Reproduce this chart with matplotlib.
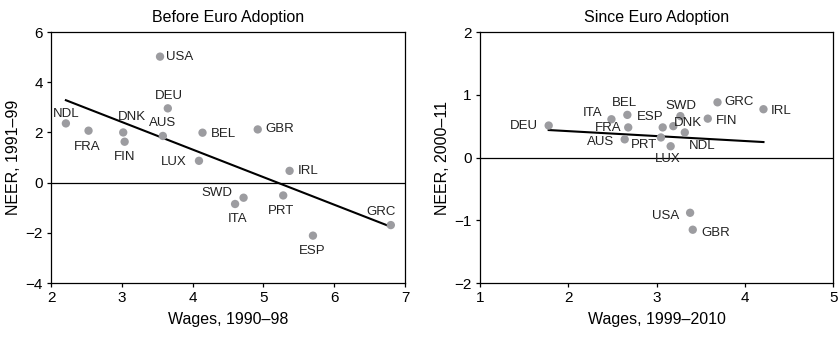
import matplotlib
matplotlib.use("Agg")
import matplotlib.pyplot as plt
import numpy as np

plt.rcParams["font.family"] = ["Liberation Sans", "DejaVu Sans"]
plt.rcParams["font.size"] = 11

# Before euro adoption: wage growth 1990-98 vs NEER change 1991-99
before_countries = ["NDL", "FRA", "DNK", "FIN", "AUS", "USA", "DEU", "BEL",
                    "GBR", "LUX", "IRL", "SWD", "ITA", "PRT", "ESP", "GRC"]
before_wages = [2.21, 2.53, 3.02, 3.04, 3.58, 3.54, 3.65, 4.14,
                4.92, 4.09, 5.37, 4.72, 4.60, 5.28, 5.70, 6.80]
before_neer = [2.36, 2.07, 2.00, 1.63, 1.86, 5.02, 2.96, 1.99,
               2.12, 0.87, 0.47, -0.60, -0.85, -0.51, -2.11, -1.69]

# Since euro adoption: wage growth 1999-2010 vs NEER change 2000-11
since_countries = ["DEU", "ITA", "BEL", "FRA", "AUS", "ESP", "PRT", "SWD",
                   "DNK", "NDL", "LUX", "FIN", "GRC", "IRL", "USA", "GBR"]
since_wages = [1.78, 2.49, 2.67, 2.68, 2.64, 3.07, 3.05, 3.27,
               3.19, 3.32, 3.16, 3.58, 3.69, 4.21, 3.38, 3.41]
since_neer = [0.51, 0.61, 0.68, 0.48, 0.29, 0.48, 0.32, 0.66,
              0.50, 0.40, 0.18, 0.62, 0.88, 0.77, -0.88, -1.15]

# label placement (pixel offsets from the marker, horizontal alignment)
before_offsets = {
    "NDL": (0, 9, "center"), "FRA": (-1, -16, "center"), "DNK": (9, 15, "center"),
    "FIN": (0, -15, "center"), "AUS": (0, 13, "center"), "USA": (6, 0, "left"),
    "DEU": (1, 12, "center"), "BEL": (8, -1, "left"), "GBR": (8, 0, "left"),
    "LUX": (-12, -1, "right"), "IRL": (8, 0, "left"), "SWD": (-11, 5, "right"),
    "ITA": (2, -15, "center"), "PRT": (-2, -16, "center"), "ESP": (-1, -15, "center"),
    "GRC": (-10, 13, "center"),
}
since_offsets = {
    "DEU": (-11, 0, "right"), "ITA": (-19, 6, "center"), "BEL": (-3, 12, "center"),
    "FRA": (-7, -1, "right"), "AUS": (-10, -3, "right"), "ESP": (-13, 10, "center"),
    "PRT": (-17, -8, "center"), "SWD": (1, 10, "center"), "DNK": (15, 3, "center"),
    "NDL": (17, -14, "center"), "LUX": (-3, -13, "center"), "FIN": (8, -2, "left"),
    "GRC": (7, 0, "left"), "IRL": (7, -2, "left"), "USA": (-11, -3, "right"),
    "GBR": (9, -3, "left"),
}

POINT_COLOR = "#9c9ca0"


def draw_panel(ax, x, y, labels, offsets, title, xlabel, ylabel, xlim, ylim, yticks):
    x = np.asarray(x)
    y = np.asarray(y)
    ax.axhline(0, color="black", linewidth=0.9, zorder=1)

    slope, intercept = np.polyfit(x, y, 1)
    xs = np.array([x.min(), x.max()])
    ax.plot(xs, slope * xs + intercept, color="black", linewidth=1.5, zorder=2)

    ax.scatter(x, y, s=36, color=POINT_COLOR, edgecolors="none", zorder=3)
    for xi, yi, lab in zip(x, y, labels):
        dx, dy, ha = offsets[lab]
        ax.annotate(lab, (xi, yi), xytext=(dx, dy), textcoords="offset pixels",
                    ha=ha, va="center", fontsize=9.5, color="#222222", zorder=4)

    ax.set_xlim(*xlim)
    ax.set_ylim(*ylim)
    ax.set_xticks(np.arange(xlim[0], xlim[1] + 1))
    ax.set_yticks(yticks)
    ax.set_yticklabels([f"{t:g}".replace("-", "\u2212") for t in yticks])
    ax.set_title(title, fontsize=11.5, pad=7)
    ax.set_xlabel(xlabel, fontsize=11.5, labelpad=5)
    ax.set_ylabel(ylabel, fontsize=11.5, labelpad=3)
    ax.tick_params(direction="out", length=3, width=0.9, labelsize=11, pad=3)
    for sp in ax.spines.values():
        sp.set_linewidth(0.9)


fig = plt.figure(figsize=(8.39, 3.37), dpi=100)
ax1 = fig.add_axes([0.0608, 0.160, 0.4219, 0.745])
ax2 = fig.add_axes([0.5718, 0.160, 0.4214, 0.745])

draw_panel(ax1, before_wages, before_neer, before_countries, before_offsets,
           "Before Euro Adoption", "Wages, 1990\u201398", "NEER, 1991\u201399",
           (2, 7), (-4, 6), [-4, -2, 0, 2, 4, 6])
draw_panel(ax2, since_wages, since_neer, since_countries, since_offsets,
           "Since Euro Adoption", "Wages, 1999\u20132010", "NEER, 2000\u201311",
           (1, 5), (-2, 2), [-2, -1, 0, 1, 2])

fig.savefig("out.png", dpi=100)
